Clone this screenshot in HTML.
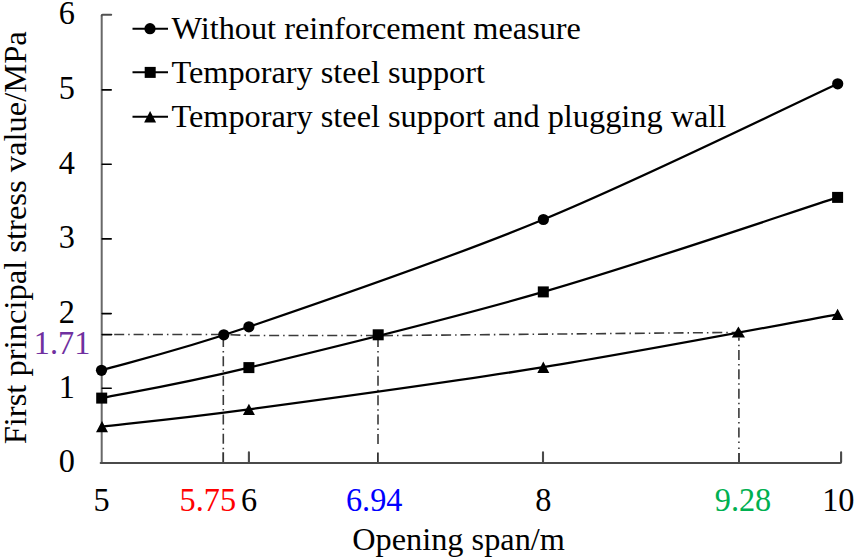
<!DOCTYPE html>
<html><head><meta charset="utf-8"><style>
html,body{margin:0;padding:0;background:#fff;width:856px;height:560px;overflow:hidden}
svg{display:block}
text{font-family:"Liberation Serif",serif}
</style></head><body>
<svg width="856" height="560" viewBox="0 0 856 560"><path d="M114.20,334.50 L223.00,334.50 L250.00,335.50 L373.00,335.50" fill="none" stroke="#3a3a3a" stroke-width="1.6" stroke-dasharray="10 4 1.5 3.87" stroke-dashoffset="0.00"/><path d="M383.00,335.60 L739.00,332.40" fill="none" stroke="#3a3a3a" stroke-width="1.6" stroke-dasharray="10 4 1.5 3.87" stroke-dashoffset="0.00"/><line x1="223.3" y1="340" x2="223.3" y2="450" stroke="#3a3a3a" stroke-width="1.6" stroke-dasharray="10 4 1.5 3.87" stroke-dashoffset="3.07"/><line x1="378.0" y1="339.6" x2="378.0" y2="446" stroke="#3a3a3a" stroke-width="1.6" stroke-dasharray="10 4 1.5 3.87" stroke-dashoffset="2.57"/><line x1="738.9" y1="337.5" x2="738.9" y2="443.2" stroke="#3a3a3a" stroke-width="1.6" stroke-dasharray="10 4 1.5 3.87" stroke-dashoffset="6.87"/><path d="M738.9,447.6 L738.9,449.0" stroke="#3a3a3a" stroke-width="1.6"/><path d="M223.2,463 L223.2,452.3 M377.9,463 L377.9,452.5 M739.0,463 L739.0,452.9" stroke="#333" stroke-width="1.8" fill="none"/><path d="M101.7,463.0 L101.7,15.6" stroke="#686868" stroke-width="2" fill="none"/><path d="M101.7,15.6 Q101.7,14.75 102.6,14.75 L111.2,14.75" stroke="#505050" stroke-width="2" fill="none" stroke-linecap="round"/><path d="M100.7,463.0 L840.2,463.0 Q841.1,463 841.1,462.1 L841.1,452.3 M248.9,463 L248.9,452.3 M543.0,463 L543.0,452.3" stroke="#4a4a4a" stroke-width="2.1" fill="none" stroke-linecap="round"/><path d="M102.2,388.30 L111.2,388.30 M102.2,313.60 L111.2,313.60 M102.2,238.90 L111.2,238.90 M102.2,164.20 L111.2,164.20 M102.2,89.90 L111.2,89.90 M102.2,334.6 L111.6,334.6" stroke="#000" stroke-width="1.6" fill="none" stroke-linecap="round"/><path d="M101.50,370.30 C126.07,363.05 175.25,351.93 248.90,326.80 C322.55,301.67 445.27,260.00 543.40,219.50 C641.53,179.00 788.65,106.42 837.70,83.80" stroke="#000" stroke-width="2.25" fill="none"/><path d="M101.70,398.10 C126.23,393.02 175.30,385.30 248.90,367.60 C322.50,349.90 445.18,320.27 543.30,291.90 C641.42,263.53 788.55,213.15 837.60,197.40" stroke="#000" stroke-width="2.25" fill="none"/><path d="M102.00,426.60 C126.48,423.73 175.35,419.30 248.90,409.40 C322.45,399.50 445.18,383.03 543.30,367.20 C641.42,351.37 788.55,323.20 837.60,314.40" stroke="#000" stroke-width="2.25" fill="none"/><g fill="#000"><circle cx="101.5" cy="370.3" r="5.6"/><circle cx="248.9" cy="326.8" r="5.6"/><circle cx="543.4" cy="219.5" r="5.6"/><circle cx="837.7" cy="83.8" r="5.6"/><circle cx="223.8" cy="334.8" r="5.6"/><rect x="96.20" y="392.60" width="11.0" height="11.0"/><rect x="243.40" y="362.10" width="11.0" height="11.0"/><rect x="537.80" y="286.40" width="11.0" height="11.0"/><rect x="832.10" y="191.90" width="11.0" height="11.0"/><rect x="372.70" y="329.30" width="11.0" height="11.0"/><path d="M102.00,420.90 L108.00,432.30 L96.00,432.30 Z"/><path d="M248.90,403.70 L254.90,415.10 L242.90,415.10 Z"/><path d="M543.30,361.50 L549.30,372.90 L537.30,372.90 Z"/><path d="M837.60,308.70 L843.60,320.10 L831.60,320.10 Z"/><path d="M738.4,326.4 L745.0,337.6 L731.8,337.6 Z"/><path d="M132.5,28.7 L168,28.7" stroke="#000" stroke-width="2.1"/><path d="M132.5,72.2 L168,72.2" stroke="#000" stroke-width="2.1"/><path d="M132.5,116.7 L168,116.7" stroke="#000" stroke-width="2.1"/><circle cx="150" cy="28.7" r="5.6"/><rect x="144.70" y="66.90" width="11.0" height="11.0"/><path d="M150.10,111.00 L156.10,122.40 L144.10,122.40 Z"/></g><g font-family="Liberation Serif" font-size="32.3" fill="#000"><text transform="translate(75,472.30) scale(1,1.06)" text-anchor="end">0</text><text transform="translate(75,397.60) scale(1,1.06)" text-anchor="end">1</text><text transform="translate(75,322.90) scale(1,1.06)" text-anchor="end">2</text><text transform="translate(75,248.20) scale(1,1.06)" text-anchor="end">3</text><text transform="translate(75,173.50) scale(1,1.06)" text-anchor="end">4</text><text transform="translate(75,99.20) scale(1,1.06)" text-anchor="end">5</text><text transform="translate(75,24.10) scale(1,1.06)" text-anchor="end">6</text><text transform="translate(90.3,353.6) scale(1,1.06)" text-anchor="end" fill="#7030A0">1.71</text><text transform="translate(101.5,510.6) scale(1,1.06)" text-anchor="middle" fill="#000">5</text><text transform="translate(207.85,510.6) scale(1,1.06)" text-anchor="middle" fill="#FF0000">5.75</text><text transform="translate(249.1,510.6) scale(1,1.06)" text-anchor="middle" fill="#000">6</text><text transform="translate(374.2,510.6) scale(1,1.06)" text-anchor="middle" fill="#0000FF">6.94</text><text transform="translate(543.3,510.6) scale(1,1.06)" text-anchor="middle" fill="#000">8</text><text transform="translate(743.0,510.6) scale(1,1.06)" text-anchor="middle" fill="#00B050">9.28</text><text transform="translate(838.3,510.6) scale(1,1.06)" text-anchor="middle" fill="#000">10</text><text x="352.3" y="550.2">Opening span/m</text><text transform="translate(26,444.3) rotate(-90)" font-size="32.55">First principal stress value/MPa</text><text x="171.5" y="38.8">Without reinforcement measure</text><text x="171.5" y="82.8">Temporary steel support</text><text x="171.5" y="126.9">Temporary steel support and plugging wall</text></g></svg>
</body></html>
